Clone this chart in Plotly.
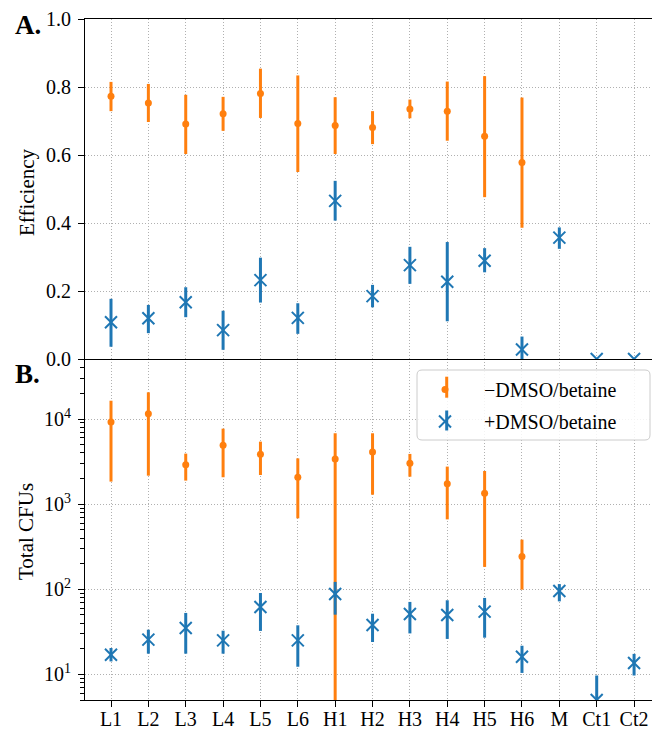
import plotly.graph_objects as go

# ---------------- data ----------------
categories = ["L1", "L2", "L3", "L4", "L5", "L6", "H1", "H2", "H3", "H4", "H5", "H6", "M", "Ct1", "Ct2"]
cats_minus = categories[:12]

# Panel A: efficiency, -DMSO/betaine (orange)
eff_minus = [0.773, 0.753, 0.691, 0.721, 0.781, 0.693, 0.687, 0.681, 0.735, 0.729, 0.655, 0.578]
eff_minus_lo = [0.729, 0.697, 0.603, 0.671, 0.709, 0.550, 0.603, 0.632, 0.708, 0.642, 0.476, 0.386]
eff_minus_hi = [0.815, 0.809, 0.777, 0.771, 0.854, 0.834, 0.770, 0.729, 0.763, 0.816, 0.832, 0.769]

# Panel A: efficiency, +DMSO/betaine (blue)
eff_plus = [0.108, 0.120, 0.167, 0.085, 0.232, 0.121, 0.465, 0.185, 0.276, 0.227, 0.289, 0.028, 0.357, 0.0, 0.0]
eff_plus_lo = [0.036, 0.076, 0.123, 0.027, 0.166, 0.074, 0.407, 0.152, 0.221, 0.111, 0.255, -0.010, 0.324, 0.0, 0.0]
eff_plus_hi = [0.177, 0.159, 0.211, 0.142, 0.298, 0.164, 0.524, 0.218, 0.330, 0.344, 0.326, 0.066, 0.387, 0.0, 0.0]

# Panel B: total CFUs
cfu_minus = [9250, 11500, 2910, 4910, 3850, 2070, 3400, 4100, 3020, 1730, 1340, 242]
cfu_minus_lo = [1840, 2160, 1890, 2070, 2200, 681, 1, 1290, 2100, 662, 183, 99]
cfu_minus_hi = [16400, 20600, 3920, 7710, 5420, 3450, 6800, 6800, 3890, 2760, 2450, 383]

cfu_plus = [17.0, 25.6, 35.1, 25.1, 61.9, 25.1, 88.1, 38.0, 51.3, 49.9, 54.6, 16.1, 95.5, 5.0, 13.6]
cfu_plus_lo = [14.2, 17.5, 17.5, 17.5, 32.4, 12.3, 50.3, 24.0, 30.3, 26.1, 27.0, 10.4, 72.1, 1.0, 9.7]
cfu_plus_hi = [20.4, 33.5, 52.7, 32.6, 90.4, 37.7, 122, 51.6, 71.0, 74.2, 79.1, 21.7, 115, 9.7, 17.4]

series_names = ["\u2212DMSO/betaine", "+DMSO/betaine"]
log_major = [10, 100, 1000, 10000]
log_major_text = ["10<sup>1</sup>", "10<sup>2</sup>", "10<sup>3</sup>", "10<sup>4</sup>"]

# ---------------- style ----------------
ORANGE = "#ff7f0e"
BLUE = "#1f77b4"
FONT = "Liberation Serif"
GRID = "#b0b0b0"
GDASH = "1px,2px"

W, H = 652, 729
L, R, T, B = 85, 0, 19, 29
PW, PH = W - L - R, H - T - B


def px(xp):
    return (xp - L) / PW


def py(yp):
    return (H - B - yp) / PH


def err(vals, lo, hi):
    return dict(type="data", symmetric=False,
                array=[h - v for v, h in zip(vals, hi)],
                arrayminus=[v - l for v, l in zip(vals, lo)],
                thickness=3, width=0)


fig = go.Figure()

# Panel A
fig.add_trace(go.Scatter(x=cats_minus, y=eff_minus, mode="markers", xaxis="x2", yaxis="y2",
                         marker=dict(symbol="circle", size=7, color=ORANGE),
                         error_y=dict(color=ORANGE, **err(eff_minus, eff_minus_lo, eff_minus_hi)),
                         showlegend=False))
fig.add_trace(go.Scatter(x=categories, y=eff_plus, mode="markers", xaxis="x2", yaxis="y2",
                         marker=dict(symbol="x-thin", size=12, color=BLUE, line=dict(color=BLUE, width=2)),
                         error_y=dict(color=BLUE, **err(eff_plus, eff_plus_lo, eff_plus_hi)),
                         showlegend=False))
# Panel B
fig.add_trace(go.Scatter(x=cats_minus, y=cfu_minus, mode="markers", xaxis="x", yaxis="y",
                         name=series_names[0], legend="legend",
                         marker=dict(symbol="circle", size=7, color=ORANGE),
                         error_y=dict(color=ORANGE, **err(cfu_minus, cfu_minus_lo, cfu_minus_hi))))
fig.add_trace(go.Scatter(x=categories, y=cfu_plus, mode="markers", xaxis="x", yaxis="y",
                         name=series_names[1], legend="legend2",
                         marker=dict(symbol="x-thin", size=12, color=BLUE, line=dict(color=BLUE, width=2)),
                         error_y=dict(color=BLUE, **err(cfu_plus, cfu_plus_lo, cfu_plus_hi))))

split = 341 / PH
xr = [-0.696, 14.48]
axfont = dict(family=FONT, size=20, color="black")

minor_vals = [m * 10 ** e for e in range(0, 5) for m in range(2, 10) if 5 <= m * 10 ** e <= 51000]

fig.update_layout(
    width=W, height=H,
    margin=dict(l=L, r=R, t=T, b=B, autoexpand=False),
    paper_bgcolor="white", plot_bgcolor="white",
    font=axfont,
    xaxis=dict(domain=[0, 1], anchor="y", type="category", categoryorder="array", categoryarray=categories,
               range=xr, showline=True, linecolor="black", linewidth=1.2,
               ticks="outside", ticklen=6, tickwidth=1.2, tickcolor="black",
               showgrid=True, gridcolor=GRID, griddash=GDASH, gridwidth=1,
               tickfont=axfont, zeroline=False, automargin=False, ticklabelstandoff=-5),
    yaxis=dict(domain=[0, split], anchor="x", type="log", range=[0.699, 4.705],
               tickvals=log_major, ticktext=log_major_text,
               showline=True, linecolor="black", linewidth=1.2,
               ticks="outside", ticklen=6, tickwidth=1.2, tickcolor="black",
               minor=dict(tickvals=minor_vals, ticks="outside", ticklen=3.5, tickwidth=1,
                          tickcolor="black", showgrid=False),
               showgrid=True, gridcolor=GRID, griddash=GDASH, gridwidth=1,
               tickfont=axfont, zeroline=False, automargin=False, ticklabelstandoff=3),
    xaxis2=dict(domain=[0, 1], anchor="y2", matches="x", type="category",
                categoryorder="array", categoryarray=categories,
                range=xr, showline=True, mirror=True, linecolor="black", linewidth=1.2,
                ticks="", showticklabels=False,
                showgrid=True, gridcolor=GRID, griddash=GDASH, gridwidth=1,
                zeroline=False, automargin=False),
    yaxis2=dict(domain=[split, 1], anchor="x2", range=[0, 1], dtick=0.2, tick0=0, tickformat=".1f",
                showline=True, linecolor="black", linewidth=1.2,
                ticks="outside", ticklen=6, tickwidth=1.2, tickcolor="black",
                showgrid=True, gridcolor=GRID, griddash=GDASH, gridwidth=1,
                tickfont=axfont, zeroline=False, automargin=False, ticklabelstandoff=3),
    legend=dict(x=px(406), y=py(370), xanchor="left", yanchor="top",
                bgcolor="rgba(0,0,0,0)", borderwidth=0, itemwidth=68,
                font=dict(family=FONT, size=20, color="black")),
    legend2=dict(x=px(406), y=py(402), xanchor="left", yanchor="top",
                 bgcolor="rgba(0,0,0,0)", borderwidth=0, itemwidth=68,
                 font=dict(family=FONT, size=20, color="black")),
)

# legend frame (rounded) drawn as a shape behind the legend items
x0, x1, y0, y1 = px(417), px(650), py(440), py(370)
rx, ry = 5 / PW, 5 / PH
path = (f"M {x0+rx},{y1} L {x1-rx},{y1} Q {x1},{y1} {x1},{y1-ry} "
        f"L {x1},{y0+ry} Q {x1},{y0} {x1-rx},{y0} L {x0+rx},{y0} "
        f"Q {x0},{y0} {x0},{y0+ry} L {x0},{y1-ry} Q {x0},{y1} {x0+rx},{y1} Z")
fig.add_shape(type="path", path=path, xref="paper", yref="paper",
              fillcolor="rgba(255,255,255,0.85)", line=dict(color="#cccccc", width=1), layer="above")
# vertical error-bar strokes of the legend handles
fig.add_shape(type="line", xref="paper", yref="paper", x0=px(446.7), x1=px(446.7), y0=py(397.7), y1=py(376.7),
              line=dict(color=ORANGE, width=3), layer="above")
fig.add_shape(type="line", xref="paper", yref="paper", x0=px(446.7), x1=px(446.7), y0=py(430.5), y1=py(410.5),
              line=dict(color=BLUE, width=3), layer="above")

# axis titles and panel labels
fig.add_annotation(text="Efficiency", xref="paper", yref="paper", x=px(27), y=py(192),
                   textangle=-90, showarrow=False, xanchor="center", yanchor="middle",
                   font=dict(family=FONT, size=21, color="black"))
fig.add_annotation(text="Total CFUs", xref="paper", yref="paper", x=px(26), y=py(532),
                   textangle=-90, showarrow=False, xanchor="center", yanchor="middle",
                   font=dict(family=FONT, size=21, color="black"))
fig.add_annotation(text="<b>A.</b>", xref="paper", yref="paper", x=px(13), y=py(25),
                   showarrow=False, xanchor="left", yanchor="middle",
                   font=dict(family=FONT, size=27, color="black"))
fig.add_annotation(text="<b>B.</b>", xref="paper", yref="paper", x=px(13), y=py(374),
                   showarrow=False, xanchor="left", yanchor="middle",
                   font=dict(family=FONT, size=27, color="black"))

fig.write_html("out.html")
